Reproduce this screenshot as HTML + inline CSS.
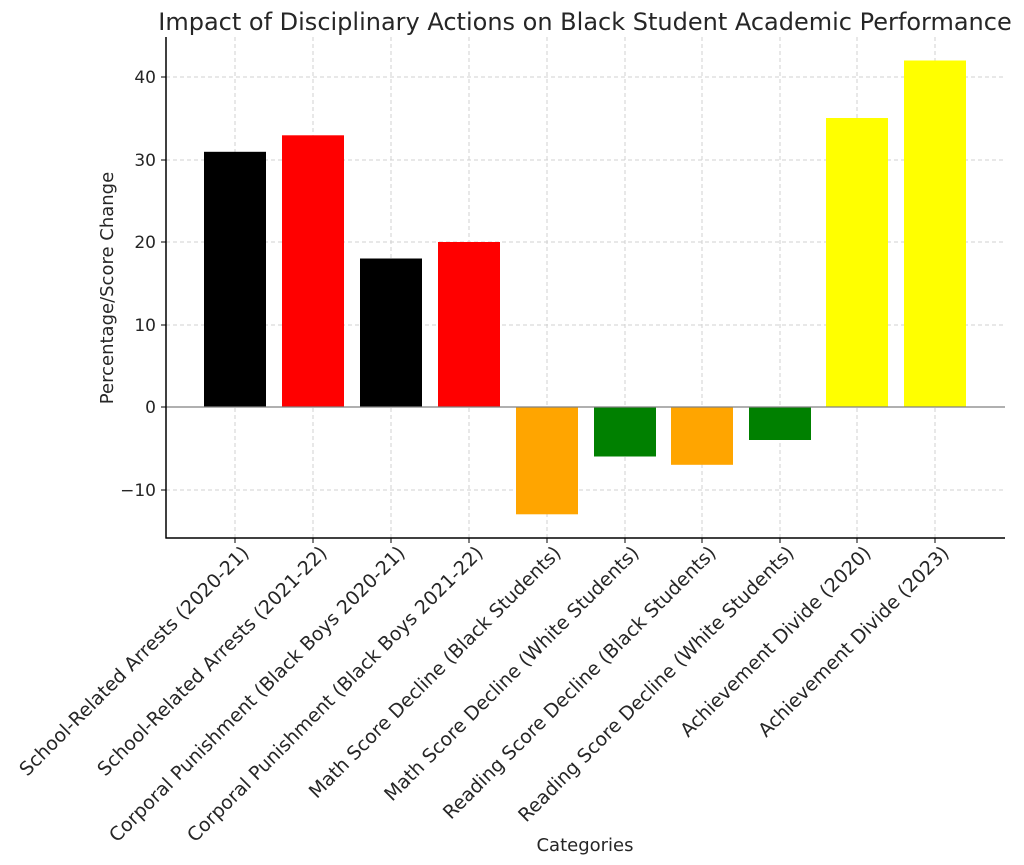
<!DOCTYPE html>
<html><head><meta charset="utf-8"><style>body{margin:0;background:#fff}svg{display:block}text{font-family:"DejaVu Sans","Liberation Sans",sans-serif;fill:#262626}</style></head><body>
<svg width="1024" height="865" viewBox="0 0 1024 865">
<rect width="1024" height="865" fill="#fff"/>
<g stroke="#d0d0d0" stroke-width="1" stroke-dasharray="4,3">
<line x1="166" x2="1005" y1="77" y2="77"/><line x1="166" x2="1005" y1="160" y2="160"/><line x1="166" x2="1005" y1="242" y2="242"/><line x1="166" x2="1005" y1="325" y2="325"/><line x1="166" x2="1005" y1="490" y2="490"/>
<line x1="235" x2="235" y1="37" y2="538"/><line x1="313" x2="313" y1="37" y2="538"/><line x1="391" x2="391" y1="37" y2="538"/><line x1="469" x2="469" y1="37" y2="538"/><line x1="547" x2="547" y1="37" y2="538"/><line x1="625" x2="625" y1="37" y2="538"/><line x1="702" x2="702" y1="37" y2="538"/><line x1="780" x2="780" y1="37" y2="538"/><line x1="857" x2="857" y1="37" y2="538"/><line x1="935" x2="935" y1="37" y2="538"/>
</g>
<rect x="204" y="151.8" width="62" height="255.2" fill="#000"/>
<rect x="282" y="135.3" width="62" height="271.7" fill="#f00"/>
<rect x="360" y="258.5" width="62" height="148.5" fill="#000"/>
<rect x="438" y="242" width="62" height="165" fill="#f00"/>
<rect x="516" y="407" width="62" height="107.3" fill="#ffa500"/>
<rect x="594" y="407" width="62" height="49.5" fill="#008000"/>
<rect x="671" y="407" width="62" height="57.8" fill="#ffa500"/>
<rect x="749" y="407" width="62" height="33" fill="#008000"/>
<rect x="826" y="118" width="62" height="289" fill="#ff0"/>
<rect x="904" y="60.5" width="62" height="346.5" fill="#ff0"/>
<line x1="166" x2="1005" y1="407" y2="407" stroke="#808080" stroke-width="1.2"/>
<g stroke="#000" stroke-width="1.5"><line x1="166" x2="166" y1="37" y2="538.5"/><line x1="165.5" x2="1005" y1="538" y2="538"/></g>
<g stroke="#000" stroke-width="1">
<line x1="161" x2="166" y1="77" y2="77"/><line x1="161" x2="166" y1="160" y2="160"/><line x1="161" x2="166" y1="242" y2="242"/><line x1="161" x2="166" y1="325" y2="325"/><line x1="161" x2="166" y1="407" y2="407"/><line x1="161" x2="166" y1="490" y2="490"/>
<line x1="235" x2="235" y1="538" y2="543"/><line x1="313" x2="313" y1="538" y2="543"/><line x1="391" x2="391" y1="538" y2="543"/><line x1="469" x2="469" y1="538" y2="543"/><line x1="547" x2="547" y1="538" y2="543"/><line x1="625" x2="625" y1="538" y2="543"/><line x1="702" x2="702" y1="538" y2="543"/><line x1="780" x2="780" y1="538" y2="543"/><line x1="857" x2="857" y1="538" y2="543"/><line x1="935" x2="935" y1="538" y2="543"/>
</g>
<g font-size="17" text-anchor="end">
<text x="156" y="83">40</text><text x="156" y="166">30</text><text x="156" y="248">20</text><text x="156" y="331">10</text><text x="156" y="413">0</text><text x="156" y="496">−10</text>
</g>
<g font-size="19" text-anchor="end">
<text transform="translate(240,544) rotate(-45)" dy="0.75em">School-Related Arrests (2020-21)</text>
<text transform="translate(318,544) rotate(-45)" dy="0.75em">School-Related Arrests (2021-22)</text>
<text transform="translate(396,544) rotate(-45)" dy="0.75em">Corporal Punishment (Black Boys 2020-21)</text>
<text transform="translate(474,544) rotate(-45)" dy="0.75em">Corporal Punishment (Black Boys 2021-22)</text>
<text transform="translate(552,544) rotate(-45)" dy="0.75em">Math Score Decline (Black Students)</text>
<text transform="translate(630,544) rotate(-45)" dy="0.75em">Math Score Decline (White Students)</text>
<text transform="translate(707,544) rotate(-45)" dy="0.75em">Reading Score Decline (Black Students)</text>
<text transform="translate(785,544) rotate(-45)" dy="0.75em">Reading Score Decline (White Students)</text>
<text transform="translate(862,544) rotate(-45)" dy="0.75em">Achievement Divide (2020)</text>
<text transform="translate(940,544) rotate(-45)" dy="0.75em">Achievement Divide (2023)</text>
</g>
<text x="585" y="851" font-size="18" text-anchor="middle">Categories</text>
<text transform="translate(113,288) rotate(-90)" font-size="18" text-anchor="middle">Percentage/Score Change</text>
<text x="585" y="30" font-size="24" text-anchor="middle">Impact of Disciplinary Actions on Black Student Academic Performance</text>
</svg>
</body></html>
